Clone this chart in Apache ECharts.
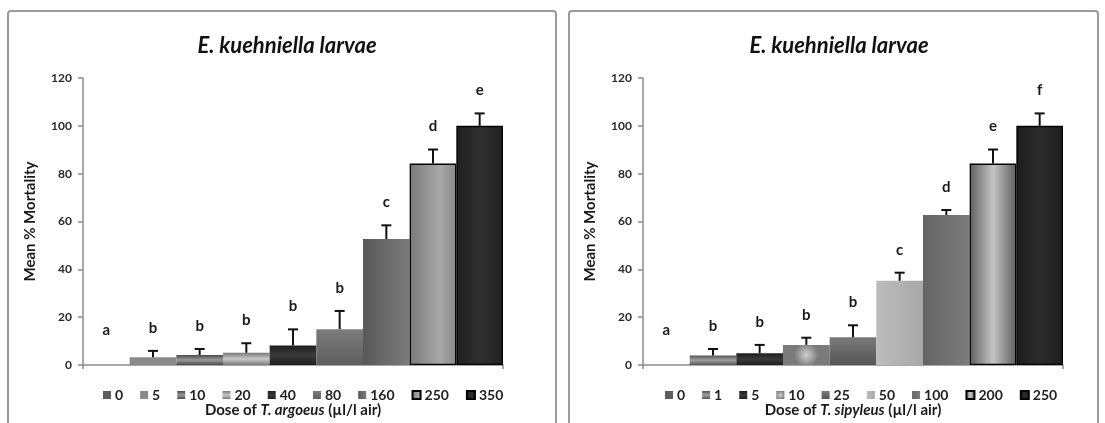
<!DOCTYPE html>
<html>
<head>
<meta charset="utf-8">
<script src="https://cdn.jsdelivr.net/npm/echarts@6/dist/echarts.min.js"></script>
<style>
  html, body { margin: 0; padding: 0; background: #ffffff; }
  #chart { width: 1105px; height: 423px; }
</style>
</head>
<body>
<div id="chart"></div>
<script>
// ---------------- DATA ----------------
const titleText = 'E. kuehniella larvae';
const yAxisName = 'Mean % Mortality';
const yTicks = [0, 20, 40, 60, 80, 100, 120];

const leftDoses   = ['0', '5', '10', '20', '40', '80', '160', '250', '350'];
const leftMeans   = [0, 3.2, 4.2, 5.1, 8.2, 15.0, 52.7, 84.2, 100.0];
const leftErrors  = [0, 2.7, 2.5, 4.0, 6.7, 7.6, 5.7, 5.9, 5.2];
const leftLetters = ['a', 'b', 'b', 'b', 'b', 'b', 'c', 'd', 'e'];
const leftSpecies = 'T. argoeus';

const rightDoses   = ['0', '1', '5', '10', '25', '50', '100', '200', '250'];
const rightMeans   = [0, 4.0, 4.9, 8.4, 11.6, 35.2, 62.7, 84.2, 100.0];
const rightErrors  = [0, 2.7, 3.5, 3.0, 5.0, 3.4, 2.1, 5.9, 5.2];
const rightLetters = ['a', 'b', 'b', 'b', 'b', 'c', 'd', 'e', 'f'];
const rightSpecies = 'T. sipyleus';

// ---------------- STYLES ----------------
function vgrad(a, b, c) { return { type: 'linear', x: 0, y: 0, x2: 0, y2: 1, colorStops: c ? [{offset:0,color:a},{offset:0.5,color:b},{offset:1,color:c}] : [{offset:0,color:a},{offset:1,color:b}] }; }
function hgrad(a, b, c, mid) { return { type: 'linear', x: 0, y: 0, x2: 1, y2: 0, colorStops: c ? [{offset:0,color:a},{offset:(mid||0.5),color:b},{offset:1,color:c}] : [{offset:0,color:a},{offset:1,color:b}] }; }
function rgrad(a, b) { return { type: 'radial', x: 0.5, y: 0.5, r: 0.6, colorStops: [{offset:0,color:a},{offset:1,color:b}] }; }

const leftFills = [
  '#5c5c5c',
  '#8a8a8a',
  vgrad('#4a4a4a', '#9a9a9a', '#4a4a4a'),
  vgrad('#7a7a7a', '#c8c8c8', '#7a7a7a'),
  vgrad('#1e1e1e', '#3a3a3a', '#1e1e1e'),
  vgrad('#7c7c7c', '#5e5e5e'),
  hgrad('#585858', '#7c7c7c'),
  hgrad('#7a7a7a', '#a8a8a8', '#8a8a8a', 0.65),
  hgrad('#202020', '#2f2f2f', '#222222')
];
const leftBordered = [false, false, false, false, false, false, false, true, true];

const rightFills = [
  '#5c5c5c',
  vgrad('#555555', '#a0a0a0', '#555555'),
  vgrad('#1e1e1e', '#3a3a3a', '#1e1e1e'),
  rgrad('#d0d0d0', '#7a7a7a'),
  vgrad('#7a7a7a', '#555555'),
  hgrad('#bcbcbc', '#a8a8a8'),
  hgrad('#646464', '#7c7c7c'),
  hgrad('#5f5f5f', '#c4c4c4', '#5f5f5f'),
  hgrad('#1c1c1c', '#2c2c2c', '#1e1e1e')
];
const rightBordered = [false, false, false, false, false, false, false, true, true];

const FONT = 'Lato, "Open Sans", sans-serif';

// ---------------- BUILD ----------------
function barSeries(prefix, doses, means, fills, bordered, gi) {
  return doses.map((d, i) => ({
    name: prefix + '|' + d,
    type: 'bar',
    xAxisIndex: gi, yAxisIndex: gi,
    barGap: '0%', barCategoryGap: '0%',
    data: [means[i]],
    itemStyle: {
      color: fills[i],
      borderColor: bordered[i] ? '#000' : 'transparent',
      borderWidth: bordered[i] ? 1.3 : 0
    },
    emphasis: { disabled: true },
    z: 2
  }));
}

function errSeries(means, errors, letters, gi) {
  const n = means.length;
  return {
    type: 'custom',
    xAxisIndex: gi, yAxisIndex: gi,
    z: 5,
    silent: true,
    data: means.map((m, i) => [0, m, errors[i], i]),
    renderItem: function (params, api) {
      const i = api.value(3), m = api.value(1), e = api.value(2);
      const base = api.coord([0, 0]);
      const bw = api.size([1, 0])[0];
      const x = base[0] - bw / 2 + (i + 0.5) * bw / n;
      const yTop = api.coord([0, m])[1];
      const yErr = api.coord([0, m + e])[1];
      const yLet = api.coord([0, Math.max(m + e, 5)])[1] - 23;
      const children = [];
      if (e > 0) {
        children.push({ type: 'line', shape: { x1: x, y1: yTop, x2: x, y2: yErr }, style: { stroke: '#111', lineWidth: 2 } });
        children.push({ type: 'line', shape: { x1: x - 5, y1: yErr, x2: x + 5, y2: yErr }, style: { stroke: '#111', lineWidth: 2 } });
      }
      children.push({ type: 'text', x: x, y: yLet, style: { text: letters[params.dataIndex], fill: '#1a1a1a', font: 'bold 15px ' + FONT, align: 'center', verticalAlign: 'middle' } });
      return { type: 'group', children: children };
    }
  };
}

function yAxisCfg(gi) {
  return {
    gridIndex: gi, type: 'value',
    min: yTicks[0], max: yTicks[yTicks.length - 1], interval: yTicks[1] - yTicks[0],
    name: yAxisName, nameLocation: 'middle', nameGap: 45,
    nameTextStyle: { fontFamily: FONT, fontSize: 15, fontWeight: 'bold', color: '#1a1a1a' },
    axisLine: { show: true, lineStyle: { color: '#8c8c8c', width: 1.5 } },
    axisTick: { show: true, length: 5, lineStyle: { color: '#8c8c8c', width: 1.5 } },
    splitLine: { show: false },
    axisLabel: { fontFamily: FONT, fontSize: 12, fontWeight: 'bold', color: '#2a2a2a', margin: 11 }
  };
}

function xAxisCfg(gi, species) {
  return {
    gridIndex: gi, type: 'category', data: [''],
    axisLine: { show: true, lineStyle: { color: '#8c8c8c', width: 1.5 } },
    axisTick: { show: true, length: 4, lineStyle: { color: '#8c8c8c', width: 1.5 } },
    axisLabel: { show: false },
    name: 'Dose of {i|' + species + '} (µl/l air)',
    nameLocation: 'middle', nameGap: 38,
    nameTextStyle: {
      fontFamily: FONT, fontSize: 15, fontWeight: 'bold', color: '#1a1a1a',
      rich: { i: { fontFamily: FONT, fontSize: 15, fontStyle: 'italic', fontWeight: 'bold', color: '#1a1a1a' } }
    }
  };
}

function legendCfg(prefix, doses, left) {
  return {
    data: doses.map(d => prefix + '|' + d),
    left: left, top: 383,
    itemWidth: 8, itemHeight: 8, itemGap: 17,
    icon: 'rect',
    selectedMode: false,
    formatter: name => name.split('|')[1],
    textStyle: { fontFamily: FONT, fontSize: 14, fontWeight: 'bold', color: '#222', padding: [0, 0, 0, -1] }
  };
}

const chart = echarts.init(document.getElementById('chart'), null, { renderer: 'canvas' });
chart.setOption({
  backgroundColor: '#ffffff',
  animation: false,
  title: [
    { text: titleText, left: 282, top: 30, textAlign: 'center',
      textStyle: { fontFamily: FONT, fontSize: 22, fontStyle: 'italic', fontWeight: 'bold', color: '#111' } },
    { text: titleText, left: 834, top: 30, textAlign: 'center',
      textStyle: { fontFamily: FONT, fontSize: 22, fontStyle: 'italic', fontWeight: 'bold', color: '#111' } }
  ],
  grid: [
    { left: 83, top: 78, width: 420, height: 287 },
    { left: 643, top: 78, width: 420, height: 287 }
  ],
  xAxis: [xAxisCfg(0, leftSpecies), xAxisCfg(1, rightSpecies)],
  yAxis: [yAxisCfg(0), yAxisCfg(1)],
  legend: [legendCfg('L', leftDoses, 98), legendCfg('R', rightDoses, 660)],
  graphic: [
    { type: 'rect', shape: { x: 8, y: 11, width: 548, height: 430, r: 3 }, style: { fill: 'none', stroke: '#9a9a9a', lineWidth: 2 }, silent: true, z: -1 },
    { type: 'rect', shape: { x: 569, y: 11, width: 529, height: 430, r: 3 }, style: { fill: 'none', stroke: '#9a9a9a', lineWidth: 2 }, silent: true, z: -1 }
  ],
  series: [].concat(
    barSeries('L', leftDoses, leftMeans, leftFills, leftBordered, 0),
    barSeries('R', rightDoses, rightMeans, rightFills, rightBordered, 1),
    [errSeries(leftMeans, leftErrors, leftLetters, 0), errSeries(rightMeans, rightErrors, rightLetters, 1)]
  )
});
</script>
</body>
</html>
